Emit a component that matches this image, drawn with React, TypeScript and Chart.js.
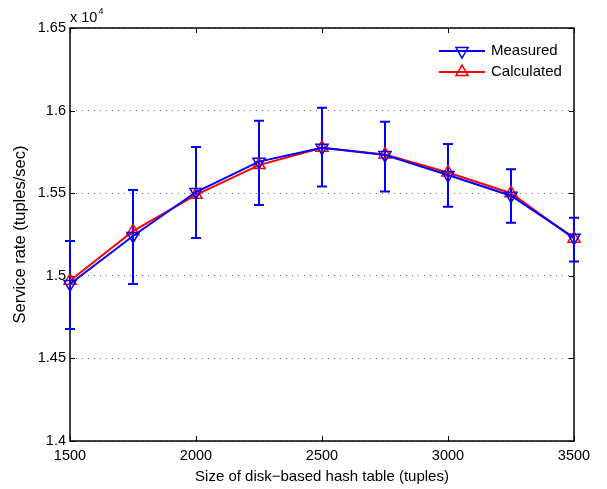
import React, { useEffect, useRef } from "react";
import { Chart, registerables } from "chart.js";

Chart.register(...registerables);

const xValues = [1500, 1750, 2000, 2250, 2500, 2750, 3000, 3250, 3500];
const measured = [14950, 15241, 15507, 15691, 15775, 15731, 15610, 15485, 15231];
const measuredLow = [14678, 14950, 15229, 15429, 15540, 15511, 15418, 15321, 15086];
const measuredHigh = [15211, 15520, 15780, 15939, 16018, 15933, 15798, 15645, 15352];
const calculated = [14970, 15270, 15490, 15670, 15775, 15735, 15625, 15500, 15225];

const xTicks = [1500, 2000, 2500, 3000, 3500];
const yTicks = [14000, 14500, 15000, 15500, 16000, 16500];

const FONT = "'Liberation Sans', Arial, Helvetica, sans-serif";

const framePlugin = {
  id: "frame",
  beforeDatasetsDraw(chart: any) {
    const { ctx, chartArea: a, scales } = chart;
    const xs = scales.x;
    const ys = scales.y;
    ctx.save();
    ctx.strokeStyle = "#000";
    ctx.lineWidth = 1.5;
    ctx.setLineDash([]);
    ctx.strokeRect(a.left, a.top, a.right - a.left, a.bottom - a.top);
    ctx.lineWidth = 1;
    ctx.beginPath();
    xTicks.forEach((v) => {
      const px = Math.round(xs.getPixelForValue(v)) + 0.5;
      ctx.moveTo(px, a.bottom);
      ctx.lineTo(px, a.bottom - 5);
      ctx.moveTo(px, a.top);
      ctx.lineTo(px, a.top + 5);
    });
    yTicks.forEach((v) => {
      const py = Math.round(ys.getPixelForValue(v)) + 0.5;
      ctx.moveTo(a.left, py);
      ctx.lineTo(a.left + 5, py);
      ctx.moveTo(a.right, py);
      ctx.lineTo(a.right - 5, py);
    });
    ctx.stroke();
    ctx.strokeStyle = "#0000ff";
    ctx.lineWidth = 2;
    ctx.beginPath();
    xValues.forEach((xv, i) => {
      const px = xs.getPixelForValue(xv);
      const pt = ys.getPixelForValue(measuredHigh[i]);
      const pb = ys.getPixelForValue(measuredLow[i]);
      ctx.moveTo(px, pt);
      ctx.lineTo(px, pb);
      ctx.moveTo(px - 5, pt);
      ctx.lineTo(px + 5, pt);
      ctx.moveTo(px - 5, pb);
      ctx.lineTo(px + 5, pb);
    });
    ctx.stroke();
    ctx.restore();
  },
  afterDraw(chart: any) {
    const { ctx, chartArea: a } = chart;
    ctx.save();
    ctx.fillStyle = "#000";
    ctx.textBaseline = "alphabetic";
    ctx.textAlign = "left";
    ctx.font = `14.5px ${FONT}`;
    const base = "x 10";
    ctx.fillText(base, a.left, 22);
    const w = ctx.measureText(base).width;
    ctx.font = `9px ${FONT}`;
    ctx.fillText("4", a.left + w + 1, 14);
    const ds = chart.data.datasets;
    ds.forEach((d: any, i: number) => {
      const y = 51 + i * 21;
      ctx.strokeStyle = d.borderColor;
      ctx.lineWidth = 2;
      ctx.beginPath();
      ctx.moveTo(439, y);
      ctx.lineTo(485, y);
      ctx.stroke();
      const r = d.pointRadius;
      const rot = ((d.pointRotation || 0) * Math.PI) / 180;
      let rad = rot;
      ctx.lineWidth = d.pointBorderWidth;
      ctx.beginPath();
      ctx.moveTo(462 + Math.sin(rad) * r, y - Math.cos(rad) * r);
      rad += (2 * Math.PI) / 3;
      ctx.lineTo(462 + Math.sin(rad) * r, y - Math.cos(rad) * r);
      rad += (2 * Math.PI) / 3;
      ctx.lineTo(462 + Math.sin(rad) * r, y - Math.cos(rad) * r);
      ctx.closePath();
      ctx.stroke();
      ctx.fillStyle = "#000";
      ctx.font = `15px ${FONT}`;
      ctx.textBaseline = "middle";
      ctx.fillText(d.label, 491, y);
    });
    ctx.restore();
  },
};

export default function App() {
  const ref = useRef<HTMLCanvasElement | null>(null);
  useEffect(() => {
    if (!ref.current) return;
    const chart = new Chart(ref.current, {
      type: "line",
      data: {
        datasets: [
          {
            label: "Measured",
            data: xValues.map((x, i) => ({ x, y: measured[i] })),
            borderColor: "#0000ff",
            backgroundColor: "rgba(0,0,0,0)",
            borderWidth: 2,
            pointStyle: "triangle",
            pointRotation: 180,
            pointRadius: 7,
            pointBorderWidth: 1.5,
            pointBackgroundColor: "rgba(0,0,0,0)",
            pointBorderColor: "#0000ff",
            tension: 0,
            clip: false,
          },
          {
            label: "Calculated",
            data: xValues.map((x, i) => ({ x, y: calculated[i] })),
            borderColor: "#ff0000",
            backgroundColor: "rgba(0,0,0,0)",
            borderWidth: 2,
            pointStyle: "triangle",
            pointRotation: 0,
            pointRadius: 7,
            pointBorderWidth: 1.5,
            pointBackgroundColor: "rgba(0,0,0,0)",
            pointBorderColor: "#ff0000",
            tension: 0,
            clip: false,
          },
        ],
      },
      options: {
        animation: false,
        responsive: false,
        devicePixelRatio: 1,
        layout: { padding: { top: 28, right: 33, left: 0, bottom: 0 } },
        plugins: {
          legend: { display: false },
          tooltip: { enabled: false },
        },
        scales: {
          x: {
            type: "linear",
            min: 1500,
            max: 3500,
            offset: false,
            afterFit: (s: any) => {
              s.height = 48;
            },
            afterBuildTicks: (s: any) => {
              s.ticks = xTicks.map((v) => ({ value: v }));
            },
            grid: { display: false, drawTicks: false },
            border: { display: false },
            ticks: {
              padding: 6,
              color: "#000",
              font: { family: FONT, size: 14.5 },
              maxRotation: 0,
              callback: (v: any) => String(v),
            },
            title: {
              display: true,
              text: "Size of disk−based hash table (tuples)",
              color: "#000",
              font: { family: FONT, size: 15 },
              padding: { top: 0, bottom: 3 },
            },
          },
          y: {
            type: "linear",
            min: 14000,
            max: 16500,
            afterFit: (s: any) => {
              s.width = 70;
            },
            afterBuildTicks: (s: any) => {
              s.ticks = yTicks.map((v) => ({ value: v }));
            },
            grid: {
              display: true,
              drawTicks: false,
              color: "rgba(0,0,0,0.55)",
              lineWidth: 1,
            },
            border: { display: false, dash: [1, 5] },
            ticks: {
              padding: 4,
              color: "#000",
              font: { family: FONT, size: 14.5 },
              callback: (v: any) => String(Math.round(Number(v) / 100) / 100),
            },
            title: {
              display: true,
              text: "Service rate (tuples/sec)",
              color: "#000",
              font: { family: FONT, size: 16.5 },
              padding: { top: 11, bottom: 0 },
            },
          },
        },
      },
      plugins: [framePlugin],
    } as any);
    return () => chart.destroy();
  }, []);
  return (
    <div style={{ position: "fixed", left: 0, top: 0, width: 607, height: 489, background: "#fff" }}>
      <canvas ref={ref} width={607} height={489} style={{ width: 607, height: 489, display: "block" }} />
    </div>
  );
}
